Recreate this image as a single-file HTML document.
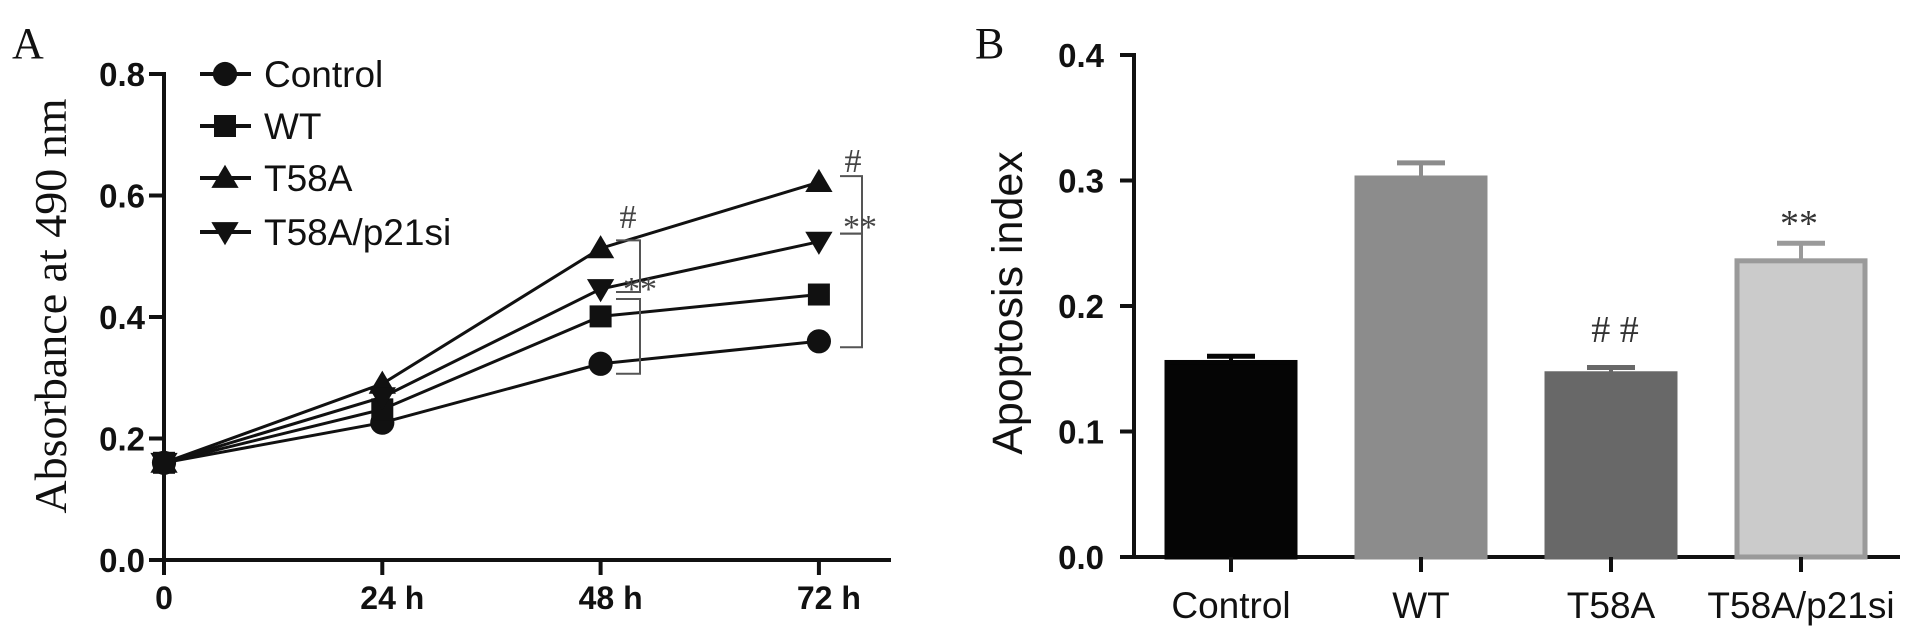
<!DOCTYPE html>
<html><head><meta charset="utf-8"><style>
html,body{margin:0;padding:0;background:#fff;}
svg{display:block;}
</style></head><body>
<svg id="fig" width="1913" height="637" viewBox="0 0 1913 637" xmlns="http://www.w3.org/2000/svg">
<g id="chartA"></g>
<g id="chartB"></g>
</svg>
<script>
// ---- Chart A data ----
const timeLabels = ["0", "24 h", "48 h", "72 h"];
const seriesNames = ["Control", "WT", "T58A", "T58A/p21si"];
const controlVals = [0.16, 0.226, 0.323, 0.36];
const wtVals = [0.16, 0.248, 0.401, 0.437];
const t58aVals = [0.16, 0.29, 0.513, 0.622];
const p21siVals = [0.16, 0.268, 0.446, 0.524];
const yTicksA = [0.0, 0.2, 0.4, 0.6, 0.8];
// ---- Chart B data ----
const groups = ["Control", "WT", "T58A", "T58A/p21si"];
const apoptosis = [0.155, 0.302, 0.146, 0.236];
const apoptosisErr = [0.005, 0.012, 0.005, 0.014];
const yTicksB = [0.0, 0.1, 0.2, 0.3, 0.4];

const NS = "http://www.w3.org/2000/svg";
function mk(parent, tag, attrs, text) {
  const e = document.createElementNS(NS, tag);
  for (const k in attrs) e.setAttribute(k, attrs[k]);
  if (text !== undefined) e.textContent = text;
  parent.appendChild(e);
  return e;
}
const SANS = '"Liberation Sans", Arial, sans-serif';
const SERIF = '"Liberation Serif", "Times New Roman", serif';

// ===== Chart A =====
const A = document.getElementById('chartA');
const xA = i => 164 + i * 218.3;
const yA = v => 560 - v * 607.5;

let t = mk(A, 'text', {x: 12, y: 58, 'font-family': SERIF, 'font-size': 44, fill: '#111'}, 'A');



let ax = mk(A, 'line', {x1: 164, y1: yA(0.8) - 2, x2: 164, y2: 562, stroke: '#111', 'stroke-width': 4});


ax = mk(A, 'line', {x1: 162, y1: 560, x2: 891, y2: 560, stroke: '#111', 'stroke-width': 4});



yTicksA.forEach(v => {
  mk(A, 'line', {x1: 149, y1: yA(v), x2: 164, y2: yA(v), stroke: '#111', 'stroke-width': 4});
  const l = mk(A, 'text', {x: 145, y: yA(v) + 12, 'text-anchor': 'end', 'font-family': SANS, 'font-weight': 'bold', 'font-size': 33, fill: '#111'}, v.toFixed(1));
  
  
});
timeLabels.forEach((lab, i) => {
  mk(A, 'line', {x1: xA(i), y1: 560, x2: xA(i), y2: 575, stroke: '#111', 'stroke-width': 4});
  const l = mk(A, 'text', {x: xA(i) + (i ? 10 : 0), y: 609, 'text-anchor': 'middle', 'font-family': SANS, 'font-weight': 'bold', 'font-size': 32, fill: '#111'}, lab);
  
  
});
t = mk(A, 'text', {x: 0, y: 0, transform: 'translate(66,306) rotate(-90)', 'text-anchor': 'middle', 'font-family': SERIF, 'font-size': 46, fill: '#111'}, 'Absorbance at 490 nm');



function marker(g, kind, cx, cy, s) {
  if (kind === 0) return mk(g, 'circle', {cx: cx, cy: cy, r: s * 0.55, fill: '#111'});
  if (kind === 1) return mk(g, 'rect', {x: cx - s / 2, y: cy - s / 2, width: s, height: s, fill: '#111'});
  if (kind === 2) return mk(g, 'polygon', {points: `${cx},${cy - s * 0.6} ${cx - s * 0.62},${cy + s * 0.45} ${cx + s * 0.62},${cy + s * 0.45}`, fill: '#111'});
  return mk(g, 'polygon', {points: `${cx},${cy + s * 0.6} ${cx - s * 0.62},${cy - s * 0.45} ${cx + s * 0.62},${cy - s * 0.45}`, fill: '#111'});
}
const allSeries = [controlVals, wtVals, t58aVals, p21siVals];
const seriesKeys = ['control', 'wt', 't58a', 't58a-p21si'];
allSeries.forEach((vals, si) => {
  const g = mk(A, 'g', {});
  
  
  const pts = vals.map((v, i) => `${xA(i)},${yA(v)}`).join(' ');
  mk(g, 'polyline', {points: pts, fill: 'none', stroke: '#111', 'stroke-width': 3});
  vals.forEach((v, i) => {
    const m = marker(g, si, xA(i), yA(v), 22);
    
    
  });
});
// legend
const legY = [74, 126, 178, 232];
seriesNames.forEach((n, i) => {
  const g = mk(A, 'g', {});
  
  
  mk(g, 'line', {x1: 200, y1: legY[i], x2: 251, y2: legY[i], stroke: '#111', 'stroke-width': 4});
  marker(g, i, 225, legY[i], 22);
  mk(g, 'text', {x: 264, y: legY[i] + 13, 'font-family': SANS, 'font-size': 37, fill: '#111'}, n);
});
// significance annotations A
const ann = mk(A, 'g', {stroke: '#555', 'stroke-width': 2, fill: 'none'});


function bracket(g, x, y1, y2, x0) {
  mk(g, 'polyline', {points: `${x0},${y1} ${x},${y1} ${x},${y2} ${x0},${y2}`});
}
bracket(ann, 640, yA(t58aVals[2]) - 8, yA(p21siVals[2]) + 3, 616);
bracket(ann, 640, yA(p21siVals[2]) + 10, yA(controlVals[2]) + 10, 616);
bracket(ann, 862, yA(t58aVals[3]) - 6, yA(p21siVals[3]) - 8, 840);
bracket(ann, 862, yA(p21siVals[3]) - 8, yA(controlVals[3]) + 6, 840);
function sym(g, x, y, s) {
  const e = mk(g, 'text', {x: x, y: y, 'text-anchor': 'middle', 'font-family': SERIF, 'font-size': 34, fill: '#444', stroke: 'none'}, s);
  
  
}
sym(ann, 628, 228, '#');
sym(ann, 640, 300, '**');
sym(ann, 853, 172, '#');
sym(ann, 860, 238, '**');

// ===== Chart B =====
const B = document.getElementById('chartB');
const yB = v => 557 - v * 1255;
const xB = i => 1231 + i * 190;
t = mk(B, 'text', {x: 975, y: 58, 'font-family': SERIF, 'font-size': 44, fill: '#111'}, 'B');


ax = mk(B, 'line', {x1: 1134, y1: yB(0.4) - 2, x2: 1134, y2: 559, stroke: '#111', 'stroke-width': 4});


ax = mk(B, 'line', {x1: 1132, y1: 557, x2: 1900, y2: 557, stroke: '#111', 'stroke-width': 4});


yTicksB.forEach(v => {
  mk(B, 'line', {x1: 1120, y1: yB(v), x2: 1134, y2: yB(v), stroke: '#111', 'stroke-width': 4});
  const l = mk(B, 'text', {x: 1104, y: yB(v) + 12, 'text-anchor': 'end', 'font-family': SANS, 'font-weight': 'bold', 'font-size': 33, fill: '#111'}, v.toFixed(1));
  
  
});
t = mk(B, 'text', {x: 0, y: 0, transform: 'translate(1022,303) rotate(-90)', 'text-anchor': 'middle', 'font-family': SANS, 'font-size': 43, fill: '#111'}, 'Apoptosis index');


const fills = ['#050505', '#8c8c8c', '#686868', '#cbcbcb'];
const strokes = ['#050505', '#8c8c8c', '#686868', '#9a9a9a'];
const barKeys = ['control', 'wt', 't58a', 't58a-p21si'];
groups.forEach((gname, i) => {
  const g = mk(B, 'g', {});
  
  
  const cx = xB(i), w = 128, v = apoptosis[i], e = apoptosisErr[i];
  mk(g, 'line', {x1: cx, y1: yB(v), x2: cx, y2: yB(v + e), stroke: strokes[i], 'stroke-width': 4});
  mk(g, 'line', {x1: cx - 24, y1: yB(v + e), x2: cx + 24, y2: yB(v + e), stroke: strokes[i], 'stroke-width': 5});
  mk(g, 'rect', {x: cx - w / 2, y: yB(v), width: w, height: yB(0) - yB(v), fill: fills[i], stroke: strokes[i], 'stroke-width': 5});
  mk(B, 'line', {x1: cx, y1: 557, x2: cx, y2: 572, stroke: '#111', 'stroke-width': 4});
  const l = mk(B, 'text', {x: cx, y: 618, 'text-anchor': 'middle', 'font-family': SANS, 'font-size': 37, fill: '#111'}, gname);
  
  
});
let s = mk(B, 'text', {x: xB(2) + 4, y: 342, 'text-anchor': 'middle', 'font-family': SERIF, 'font-size': 38, fill: '#333'}, '# #');


s = mk(B, 'text', {x: xB(3) - 2, y: 236, 'text-anchor': 'middle', 'font-family': SERIF, 'font-size': 38, fill: '#333'}, '**');


</script>
</body></html>
